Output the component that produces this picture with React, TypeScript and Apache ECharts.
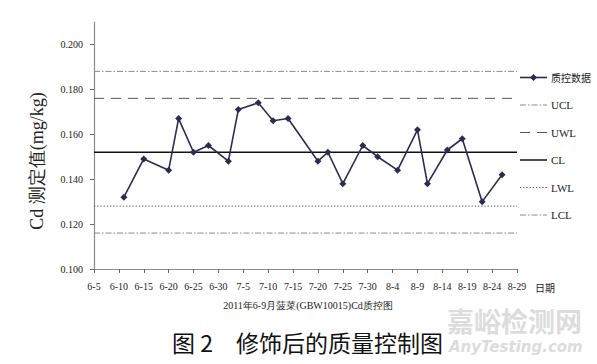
import React, { useEffect, useRef } from "react";
import * as echarts from "echarts";

// ---- data ----
const startDate = "2011-06-05";
const tickLabels = ["6-5","6-10","6-15","6-20","6-25","6-30","7-5","7-10","7-15","7-20","7-25","7-30","8-4","8-9","8-14","8-19","8-24","8-29"];
const sampleDates = [
  "2011-06-11","2011-06-15","2011-06-20","2011-06-22","2011-06-25","2011-06-28",
  "2011-07-02","2011-07-04","2011-07-08","2011-07-11","2011-07-14","2011-07-20",
  "2011-07-22","2011-07-25","2011-07-29","2011-08-01","2011-08-05","2011-08-09",
  "2011-08-11","2011-08-15","2011-08-18","2011-08-22","2011-08-26"
];
const sampleValues = [
  0.132,0.149,0.144,0.167,0.152,0.155,
  0.148,0.171,0.174,0.166,0.167,0.148,
  0.152,0.138,0.155,0.150,0.144,0.162,
  0.138,0.153,0.158,0.130,0.142
];
const yTickValues = [0.1, 0.12, 0.14, 0.16, 0.18, 0.2];
const limitNames = ["UCL", "UWL", "CL", "LWL", "LCL"];
const limitValues = [0.188, 0.176, 0.152, 0.128, 0.116];
const dataName = "质控数据";
const yAxisTitle = "Cd 测定值(mg/kg)";
const xAxisTitle = "日期";
const subTitle = "2011年6-9月菠菜(GBW10015)Cd质控图";
const captionNo = "图 2";
const captionText = "修饰后的质量控制图";

const DAY = 86400000;
const dayOffset = (d: string) => Math.round((Date.parse(d) - Date.parse(startDate)) / DAY);
const xMax = (tickLabels.length - 1) * 5;

const dataColor = "#2c2c52";
const limitStyles: Record<string, any> = {
  UCL: { color: "#8a8a8a", width: 1, type: [6, 2, 1.5, 2] },
  UWL: { color: "#555555", width: 1, type: [10, 7] },
  CL: { color: "#111111", width: 1.5, type: "solid" },
  LWL: { color: "#444444", width: 1, type: [1.2, 2] },
  LCL: { color: "#8a8a8a", width: 1, type: [6, 2, 1.5, 2] },
};

const serif = "Liberation Serif";
const cjk = "Noto Sans CJK SC";

function buildLegend() {
  const x0 = 520, x1 = 547, tx = 551, y0 = 77.5, gap = 27.5;
  const els: any[] = [];
  const names = [dataName, ...limitNames];
  names.forEach((n, i) => {
    const y = y0 + i * gap;
    if (n === dataName) {
      els.push({ type: "line", shape: { x1: x0, y1: y, x2: x1, y2: y }, style: { stroke: dataColor, lineWidth: 1.6 } });
      els.push({ type: "polygon", shape: { points: [[533.5, y - 3.5], [537, y], [533.5, y + 3.5], [530, y]] }, style: { fill: dataColor } });
    } else {
      const s = limitStyles[n];
      els.push({
        type: "line",
        shape: { x1: x0, y1: y, x2: x1, y2: y },
        style: { stroke: s.color, lineWidth: s.width, lineDash: Array.isArray(s.type) ? s.type : null },
      });
    }
    els.push({
      type: "text",
      x: tx,
      y,
      style: { text: n, fontFamily: n === dataName ? cjk : serif, fontSize: n === dataName ? 10 : 11, fill: "#222", align: "left", verticalAlign: "middle" },
    });
  });
  return els;
}

export default function App() {
  const ref = useRef<HTMLDivElement>(null);
  useEffect(() => {
    if (!ref.current) return;
    const chart = echarts.init(ref.current, null, { renderer: "svg" });
    const dataPoints = sampleDates.map((d, i) => [dayOffset(d), sampleValues[i]]);
    const limitSeries = limitNames.map((n, i) => ({
      name: n,
      type: "line",
      data: [[0, limitValues[i]], [xMax, limitValues[i]]],
      symbol: "none",
      lineStyle: limitStyles[n],
      itemStyle: { color: limitStyles[n].color },
      silent: true,
      z: 1,
    }));
    chart.setOption({
      animation: false,
      backgroundColor: "#ffffff",
      grid: { left: 94, top: 22, right: 80, bottom: 95 },
      xAxis: {
        type: "value",
        min: 0,
        max: xMax,
        interval: 5,
        axisLine: { lineStyle: { color: "#8c8c8c", width: 1.2 } },
        axisTick: { show: true, length: 4, lineStyle: { color: "#666" } },
        splitLine: { show: false },
        axisLabel: {
          margin: 12,
          fontFamily: serif,
          fontSize: 10,
          color: "#222",
          formatter: (v: number) => tickLabels[Math.round(v / 5)] ?? "",
        },
      },
      yAxis: {
        type: "value",
        min: 0.1,
        max: 0.21,
        axisLine: { show: true, lineStyle: { color: "#8c8c8c", width: 1.2 } },
        axisTick: { show: true, length: 4, customValues: yTickValues, lineStyle: { color: "#666" } },
        splitLine: { show: false },
        axisLabel: {
          margin: 11,
          fontFamily: serif,
          fontSize: 10,
          color: "#222",
          customValues: yTickValues,
          formatter: (v: number) => v.toFixed(3),
        },
      },
      series: [
        {
          name: dataName,
          type: "line",
          data: dataPoints,
          symbol: "diamond",
          symbolSize: 7,
          lineStyle: { color: dataColor, width: 1.6 },
          itemStyle: { color: dataColor },
          z: 3,
        },
        ...limitSeries,
      ],
      graphic: [
        ...buildLegend(),
        {
          type: "text",
          x: 37,
          y: 161,
          rotation: Math.PI / 2,
          style: {
            text: yAxisTitle,
            fontFamily: serif,
            fontSize: 18,
            fill: "#222",
            align: "center",
            verticalAlign: "middle",
          },
        },
        {
          type: "text",
          x: 545,
          y: 287,
          style: { text: xAxisTitle, fontFamily: cjk, fontSize: 10, fill: "#222", align: "center", verticalAlign: "middle" },
        },
        {
          type: "text",
          x: 308,
          y: 305,
          style: { text: subTitle, fontFamily: serif, fontSize: 10, fill: "#222", align: "center", verticalAlign: "middle" },
        },
        {
          type: "text",
          x: 447,
          y: 320,
          style: { text: "嘉峪检测网", fontFamily: cjk, fontWeight: "bold", fontSize: 27, fill: "#dcdcdc", align: "left", verticalAlign: "middle" },
        },
        {
          type: "text",
          x: 449,
          y: 347,
          style: { text: "AnyTesting.com", fontFamily: "DejaVu Sans", fontStyle: "italic", fontWeight: "bold", fontSize: 15, fill: "#dcdcdc", align: "left", verticalAlign: "middle" },
        },
        {
          type: "text",
          x: 172,
          y: 342,
          style: { text: captionNo, fontFamily: cjk, fontSize: 23, fill: "#111", align: "left", verticalAlign: "middle" },
        },
        {
          type: "text",
          x: 236,
          y: 342,
          style: { text: captionText, fontFamily: cjk, fontSize: 23, fill: "#111", align: "left", verticalAlign: "middle" },
        },
      ],
    });
    return () => chart.dispose();
  }, []);
  return (
    <div
      ref={ref}
      style={{ position: "fixed", left: 0, top: 0, width: 597, height: 364, background: "#fff" }}
    />
  );
}
